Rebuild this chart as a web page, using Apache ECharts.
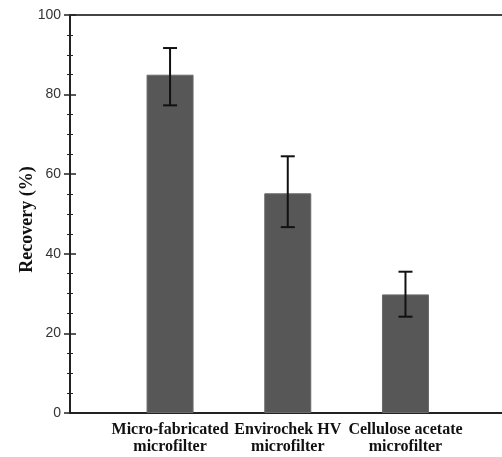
<!DOCTYPE html>
<html><head><meta charset="utf-8">
<script src="https://cdn.jsdelivr.net/npm/echarts@6/dist/echarts.min.js"></script>
<style>html,body{margin:0;padding:0;background:#fff}#c{width:502px;height:457px}</style>
</head><body><div id="c"></div>
<script>
const categories = ['Micro-fabricated\nmicrofilter', 'Envirochek HV\nmicrofilter', 'Cellulose acetate\nmicrofilter'];
const positions = [1, 2, 3];
const recovery = [85.0, 55.2, 29.8];
const errUpper = [91.7, 64.5, 35.5];
const errLower = [77.3, 46.7, 24.2];
const yMin = 0, yMax = 100, yStep = 20;

const chart = echarts.init(document.getElementById('c'));
const barData = positions.map((p, i) => [p, recovery[i]]);
const errData = positions.map((p, i) => [p, errLower[i], errUpper[i]]);

chart.setOption({
  animation: false,
  grid: { left: 70, right: -4, top: 15, bottom: 44 },
  xAxis: [{
    type: 'value', min: 0.15, max: 3.82, position: 'bottom',
    axisLine: { show: true, onZero: false, lineStyle: { color: '#222', width: 2 } },
    axisTick: { show: false }, splitLine: { show: false },
    axisLabel: {
      customValues: positions,
      formatter: v => { const i = positions.indexOf(Math.round(v)); return i >= 0 ? categories[i] : ''; },
      fontFamily: 'Liberation Serif', fontWeight: 'bold', fontSize: 16, color: '#111',
      lineHeight: 17, margin: 8
    }
  }, {
    type: 'value', min: 0.15, max: 3.82, position: 'top',
    axisLine: { show: true, onZero: false, lineStyle: { color: '#444', width: 2 } },
    axisTick: { show: false }, splitLine: { show: false }, axisLabel: { show: false }
  }],
  yAxis: [{
    type: 'value', min: yMin, max: yMax, interval: yStep, position: 'left',
    name: 'Recovery (%)', nameLocation: 'middle', nameGap: 34, nameMoveOverlap: false,
    nameTextStyle: { fontFamily: 'Liberation Serif', fontWeight: 'bold', fontSize: 18, color: '#111', padding: [0, 11, 0, 0] },
    axisLine: { show: true, lineStyle: { color: '#222', width: 2 } },
    axisTick: { show: true, length: 6, lineStyle: { color: '#222', width: 1.5 } },
    minorTick: { show: true, splitNumber: 4, length: 3, lineStyle: { color: '#222', width: 1 } },
    splitLine: { show: false },
    axisLabel: { fontFamily: 'Liberation Sans', fontSize: 14, color: '#333', margin: 9 }
  }, {
    type: 'value', min: yMin, max: yMax, interval: yStep, position: 'left',
    axisLine: { show: false },
    axisTick: { show: true, inside: true, length: 6, lineStyle: { color: '#222', width: 1.5 } },
    minorTick: { show: true, splitNumber: 4, length: 3, lineStyle: { color: '#222', width: 1 } },
    splitLine: { show: false }, axisLabel: { show: false }
  }],
  series: [{
    type: 'bar', data: barData, barWidth: 47, xAxisIndex: 0, yAxisIndex: 0,
    itemStyle: { color: '#575757', borderColor: '#6a6a6a', borderWidth: 1 }
  }, {
    type: 'custom', xAxisIndex: 0, yAxisIndex: 0, data: errData, z: 10,
    renderItem: (params, api) => {
      const x = api.value(0);
      const lo = api.coord([x, api.value(1)]);
      const hi = api.coord([x, api.value(2)]);
      const w = 7;
      const style = { stroke: '#111', lineWidth: 2 };
      return { type: 'group', children: [
        { type: 'line', shape: { x1: lo[0], y1: lo[1], x2: hi[0], y2: hi[1] }, style },
        { type: 'line', shape: { x1: hi[0] - w, y1: hi[1], x2: hi[0] + w, y2: hi[1] }, style },
        { type: 'line', shape: { x1: lo[0] - w, y1: lo[1], x2: lo[0] + w, y2: lo[1] }, style }
      ]};
    }
  }]
});
</script></body></html>
